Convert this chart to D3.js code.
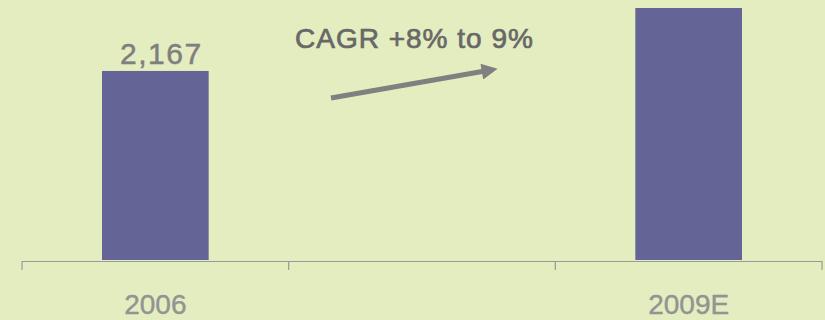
<!DOCTYPE html>
<html><head><meta charset="utf-8">
<script src="https://cdn.jsdelivr.net/npm/d3@7/dist/d3.min.js"></script>
<style>
html,body{margin:0;padding:0;background:#e4edbf;}
svg{display:block;}
</style></head>
<body>
<svg id="chart" width="825" height="320"></svg>
<script>
const categories = ["2006", "mid", "2009E"];
const tickLabels = ["2006", "", "2009E"];
const values = [2167, null, 2889];
const valueLabels = ["2,167", "", ""];
const annotation = "CAGR +8% to 9%";

const W = 825, H = 320;
const svg = d3.select("#chart");
svg.append("rect").attr("width", W).attr("height", H).attr("fill", "#e4edbf");

const x = d3.scaleBand().domain(categories).range([22, 822]).padding(0);
const y = d3.scaleLinear().domain([0, 2889]).range([260, 8]);

const barW = x.bandwidth() * 0.4;

svg.selectAll("rect.bar")
  .data(categories.map((c, i) => ({c, v: values[i]})).filter(d => d.v != null))
  .enter().append("rect")
  .attr("class", "bar")
  .attr("x", d => x(d.c) + (x.bandwidth() - barW) / 2)
  .attr("y", d => y(d.v))
  .attr("width", barW)
  .attr("height", d => y(0) - y(d.v))
  .attr("fill", "#646496");

// value labels
svg.selectAll("text.val")
  .data(categories.map((c, i) => ({c, v: values[i], l: valueLabels[i]})).filter(d => d.l))
  .enter().append("text")
  .attr("class", "val")
  .attr("x", d => x(d.c) + x.bandwidth() / 2 + 6)
  .attr("y", d => y(d.v) - 7)
  .attr("text-anchor", "middle")
  .attr("font-family", "Liberation Sans, Arial, sans-serif")
  .attr("font-size", 30)
  .attr("letter-spacing", 1.5)
  .attr("fill", "#7f7f7f")
  .attr("stroke", "#7f7f7f").attr("stroke-width", 0.5)
  .text(d => d.l);

// axis
const axisG = svg.append("g");
axisG.append("line")
  .attr("x1", x.range()[0]).attr("x2", x.range()[1])
  .attr("y1", 261.5).attr("y2", 261.5)
  .attr("stroke", "#999").attr("stroke-width", 1.2);
const edges = categories.map(c => x(c)).concat([x.range()[1]]);
axisG.selectAll("line.tick").data(edges).enter().append("line")
  .attr("class", "tick")
  .attr("x1", d => d).attr("x2", d => d)
  .attr("y1", 261).attr("y2", 270)
  .attr("stroke", "#999").attr("stroke-width", 1.2);

axisG.selectAll("text.cat").data(categories).enter().append("text")
  .attr("class", "cat")
  .attr("x", d => x(d) + x.bandwidth() / 2)
  .attr("y", 314)
  .attr("text-anchor", "middle")
  .attr("font-family", "Liberation Sans, Arial, sans-serif")
  .attr("font-size", 28)
  .attr("fill", "#939393")
  .attr("stroke", "#939393").attr("stroke-width", 0.4)
  .text((d, i) => tickLabels[i]);

// annotation
svg.append("text")
  .attr("x", 295).attr("y", 48)
  .attr("font-family", "Liberation Sans, Arial, sans-serif")
  .attr("font-size", 28)
  .attr("letter-spacing", 1)
  .attr("fill", "#686868")
  .attr("stroke", "#686868").attr("stroke-width", 0.7)
  .text(annotation);

const defs = svg.append("defs");
defs.append("marker")
  .attr("id", "arr").attr("viewBox", "0 0 10 10")
  .attr("refX", 2).attr("refY", 5)
  .attr("markerWidth", 3.6).attr("markerHeight", 3.2)
  .attr("orient", "auto")
  .append("path").attr("d", "M0,0 L10,5 L0,10 Z").attr("fill", "#808080");

svg.append("line")
  .attr("x1", 331).attr("y1", 98)
  .attr("x2", 485).attr("y2", 71)
  .attr("stroke", "#808080").attr("stroke-width", 5)
  .attr("marker-end", "url(#arr)");
</script>
</body></html>
